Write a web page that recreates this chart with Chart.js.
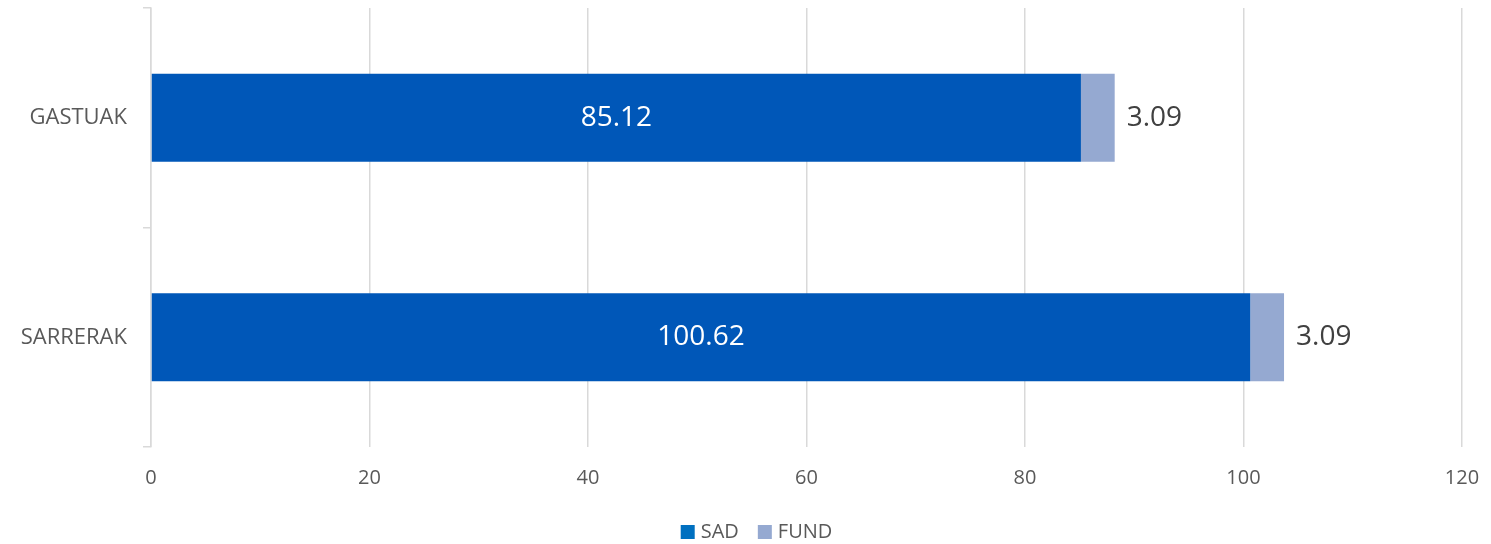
<!DOCTYPE html>
<html>
<head>
<meta charset="utf-8">
<script src="https://cdn.jsdelivr.net/npm/chart.js@4/dist/chart.umd.min.js"></script>
<style>
html,body{margin:0;padding:0;background:#fff;}
#wrap{width:1491px;height:544px;}
</style>
</head>
<body>
<div id="wrap"><canvas id="c" width="1491" height="544"></canvas></div>
<script>
const categories = ["GASTUAK", "SARRERAK"];
const sadValues = [85.12, 100.62];
const fundValues = [3.09, 3.09];
const seriesNames = ["SAD", "FUND"];
const xTicks = [0, 20, 40, 60, 80, 100, 120];

const FONT = "'Open Sans', sans-serif";

const labelPlugin = {
  id: 'barLabels',
  afterDatasetsDraw(chart) {
    const ctx = chart.ctx;
    ctx.save();
    ctx.font = "28px " + FONT;
    ctx.textBaseline = 'middle';
    chart.data.datasets.forEach((ds, di) => {
      const meta = chart.getDatasetMeta(di);
      meta.data.forEach((bar, i) => {
        const v = ds.data[i];
        const txt = v.toFixed(2);
        if (di === 0) {
          ctx.fillStyle = '#ffffff';
          ctx.textAlign = 'center';
          ctx.fillText(txt, (bar.x + bar.base) / 2, bar.y);
        } else {
          ctx.fillStyle = '#404040';
          ctx.textAlign = 'left';
          ctx.fillText(txt, bar.x + 12, bar.y);
        }
      });
    });
    ctx.restore();
  }
};

const legendPlugin = {
  id: 'customLegend',
  afterDraw(chart) {
    const ctx = chart.ctx;
    ctx.save();
    ctx.font = "20px " + FONT;
    ctx.textBaseline = 'middle';
    ctx.textAlign = 'left';
    const box = 14, gap = 6, itemGap = 19;
    const items = chart.data.datasets.map(ds => ({ text: ds.label, color: ds.legendColor || ds.backgroundColor, w: ctx.measureText(ds.label).width }));
    let total = 0;
    items.forEach((it, i) => { total += box + gap + it.w + (i < items.length - 1 ? itemGap : 0); });
    let x = chart.width / 2 + 11 - total / 2;
    const y = chart.height - 12;
    items.forEach(it => {
      ctx.fillStyle = it.color;
      ctx.fillRect(x, y - box / 2, box, box);
      x += box + gap;
      ctx.fillStyle = '#595959';
      ctx.fillText(it.text, x, y);
      x += it.w + itemGap;
    });
    ctx.restore();
  }
};

new Chart(document.getElementById('c'), {
  type: 'bar',
  data: {
    labels: categories,
    datasets: [
      { label: seriesNames[0], data: sadValues, backgroundColor: '#0057B8', legendColor: '#0070C0', barPercentage: 0.4, categoryPercentage: 1.0 },
      { label: seriesNames[1], data: fundValues, backgroundColor: '#95A9D1', barPercentage: 0.4, categoryPercentage: 1.0 }
    ]
  },
  plugins: [labelPlugin, legendPlugin],
  options: {
    indexAxis: 'y',
    responsive: false,
    animation: false,
    layout: { padding: { top: 8, right: 29, left: 0, bottom: 0 } },
    plugins: {
      tooltip: { enabled: false },
      legend: { display: false }
    },
    scales: {
      x: {
        stacked: true,
        min: 0, max: 120,
        afterBuildTicks(axis) { axis.ticks = xTicks.map(v => ({ value: v })); },
        grid: { color: '#d9d9d9', lineWidth: 1.5, drawTicks: false },
        border: { display: false },
        ticks: { color: '#595959', font: { family: FONT, size: 20 }, padding: 19 },
        afterFit(axis) { axis.height = 97; axis.paddingLeft = 0; axis.paddingRight = 0; }
      },
      y: {
        stacked: true,
        grid: { offset: true, drawOnChartArea: false, color: '#d9d9d9', lineWidth: 1.5, tickLength: 8 },
        border: { color: '#d9d9d9', width: 1.5 },
        ticks: { color: '#595959', font: { family: FONT, size: 22 }, padding: 16 },
        afterFit(axis) { axis.width = 151; axis.paddingTop = 0; axis.paddingBottom = 0; }
      }
    }
  }
});
</script>
</body>
</html>
